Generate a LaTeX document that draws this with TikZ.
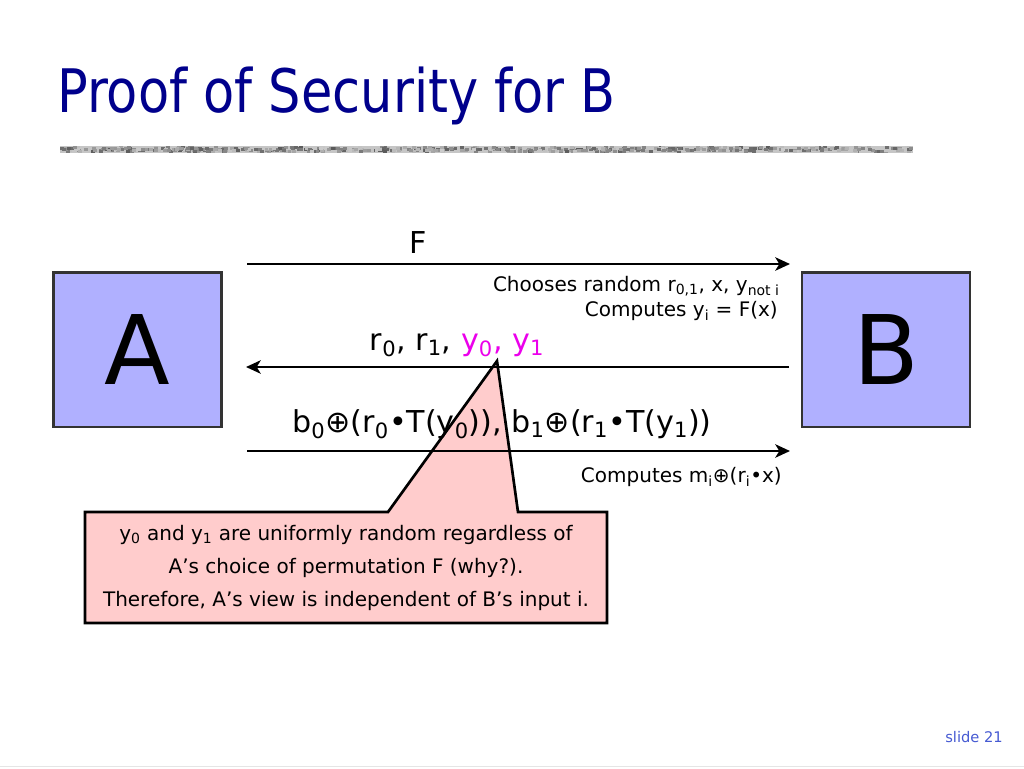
\documentclass[tikz,border=0pt]{standalone}
\usepackage{fontspec}
\setmainfont{DejaVu Sans}
\newfontfamily\titlefont{DejaVu Sans}[FakeStretch=0.85]
\usepackage{tikz}
\usetikzlibrary{arrows.meta,arrows,positioning}
\definecolor{titleblue}{RGB}{0,0,140}
\definecolor{boxblue}{RGB}{176,176,255}
\definecolor{notepink}{RGB}{255,204,204}
\definecolor{magentay}{RGB}{235,0,235}
\definecolor{slideblue}{RGB}{70,90,210}
\tikzset{
  party/.style={draw=black!80,line width=2pt,fill=boxblue,minimum width=126pt,
    minimum height=116pt,font=\fontsize{72}{72}\selectfont},
  msg/.style={font=\fontsize{22.6}{26}\selectfont},
  note/.style={font=\fontsize{15}{18}\selectfont},
  every node/.style={inner sep=0pt}
}
\tikzstyle{arrow} = [line width=2.2pt,->,>={Stealth[length=11pt,width=10pt,inset=3pt]}]
\newcommand{\sbs}[1]{\textsubscript{#1}}

\begin{document}
\begin{tikzpicture}[x=0.75pt,y=-0.75pt]
  \useasboundingbox (0,0) rectangle (1024,768);
  % title and grey bar
  \node[anchor=base west,text=titleblue,font=\titlefont\fontsize{45}{45}\selectfont] (title) at (57,112) {Proof of Security for B};
  \fill[gray!45] (60,146) rectangle (913,153);
  \pgfmathsetseed{7}
  \foreach \i in {0,...,600}{
    \pgfmathsetmacro{\px}{60+rnd*849}
    \pgfmathsetmacro{\py}{146+rnd*4}
    \pgfmathsetmacro{\pg}{20+rnd*45}
    \fill[black!\pg] (\px,\py) rectangle ++(4,3);
  }
  \draw[black!10] (0,766) -- (1024,766);
  % parties
  \node[party] (A) at (137.5,349.5) {A};
  \node[party] (B) at (886,349.5) {B};
  % callout (behind the messages)
  \coordinate (tip) at (497,361);
  \draw[line width=2pt,fill=notepink,line join=miter]
    (85,512) -- (388,512) -- (tip) -- (518,512) -- (607,512) -- (607,623) -- (85,623) -- cycle;
  \node[note,align=center,font=\fontsize{15}{25}\selectfont] (why) at (346,568)
    {y\sbs{0} and y\sbs{1} are uniformly random regardless of\\
     A’s choice of permutation F (why?).\\
     Therefore, A’s view is independent of B’s input i.};
  % messages
  \coordinate (f1) at (247,264);   \coordinate (f2) at (790,264);
  \coordinate (r1) at (246,367);   \coordinate (r2) at (789,367);
  \coordinate (c1) at (247,451);   \coordinate (c2) at (790,451);
  \draw[arrow] (f1) -- (f2);
  \draw[arrow] (r2) -- (r1);
  \draw[arrow] (c1) -- (c2);
  \node[msg,anchor=base] (F) at (418,253) {F};
  \node[note,anchor=base east] (choose) at (780,291) {Chooses random r\sbs{0,1}, x, y\sbs{not i}};
  \node[note,anchor=base east] (comp) at (778,316) {Computes y\sbs{i} = F(x)};
  \node[msg,anchor=base] (rys) at (457,350) {r\sbs{0}, r\sbs{1}, \textcolor{magentay}{y\sbs{0}, y\sbs{1}}};
  \node[msg,anchor=base] (bs) at (502,432) {b\sbs{0}⊕(r\sbs{0}•T(y\sbs{0})), b\sbs{1}⊕(r\sbs{1}•T(y\sbs{1}))};
  \node[note,anchor=base east] (compm) at (782,482) {Computes m\sbs{i}⊕(r\sbs{i}•x)};
  % footer
  \node[anchor=base east,text=slideblue,font=\fontsize{11}{11}\selectfont] (num) at (1003,742) {slide 21};
\end{tikzpicture}
\end{document}
